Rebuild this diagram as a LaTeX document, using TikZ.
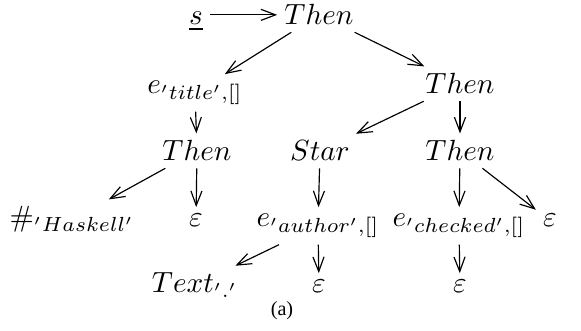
\documentclass[tikz,border=0pt]{standalone}
\usepackage[no-math]{fontspec}
\setmainfont{Liberation Serif}
\usetikzlibrary{arrows.meta}
\tikzset{
  lbl/.style={anchor=base, inner sep=2.5pt, outer sep=0pt},
  arr/.style={-{Straight Barb[length=5pt,width=3.8pt]}, line width=0.4pt},
}
\begin{document}
\begin{tikzpicture}[x=0.3425pt,y=-0.3425pt]
\useasboundingbox (0,0) rectangle (581,331);
\node[lbl] (s)  at (196,25) {$\underline{s}$};
\node[lbl] (t1) at (319,25) {$Then$};
\node[lbl] (et) at (195,94) {$e_{'title',[]}$};
\node[lbl] (t2) at (460,94) {$Then$};
\node[lbl] (t3) at (197,161) {$Then$};
\node[lbl] (st) at (320,161) {$Star$};
\node[lbl] (t4) at (460,161) {$Then$};
\node[lbl] (h)  at (72,227) {$\#_{'Haskell'}$};
\node[lbl] (e1) at (196,227) {$\varepsilon$};
\node[lbl] (ea) at (318,227) {$e_{'author',[]}$};
\node[lbl] (ec) at (459,227) {$e_{'checked',[]}$};
\node[lbl] (e2) at (550,227) {$\varepsilon$};
\node[lbl] (tx) at (195,293) {$Text_{'.'}$};
\node[lbl] (e3) at (319,293) {$\varepsilon$};
\node[lbl] (e4) at (460,293) {$\varepsilon$};
\node[lbl,font=\fontsize{6.9}{8}\selectfont] (cap) at (282,316) {(a)};
\draw[arr] (s.east |- t1) -- (t1.west);
\draw[arr] (t1) -- (et);
\draw[arr] (t1) -- (t2);
\draw[arr] (et) -- (t3);
\draw[arr] (t2) -- (st);
\draw[arr] (t2) -- (t4);
\draw[arr] (t3) -- (h);
\draw[arr] (t3) -- (e1);
\draw[arr] (st) -- (ea);
\draw[arr] (t4) -- (ec);
\draw[arr] (t4) -- (e2);
\draw[arr] (ea) -- (tx);
\draw[arr] (ea) -- (e3);
\draw[arr] (ec) -- (e4);
\end{tikzpicture}
\end{document}
